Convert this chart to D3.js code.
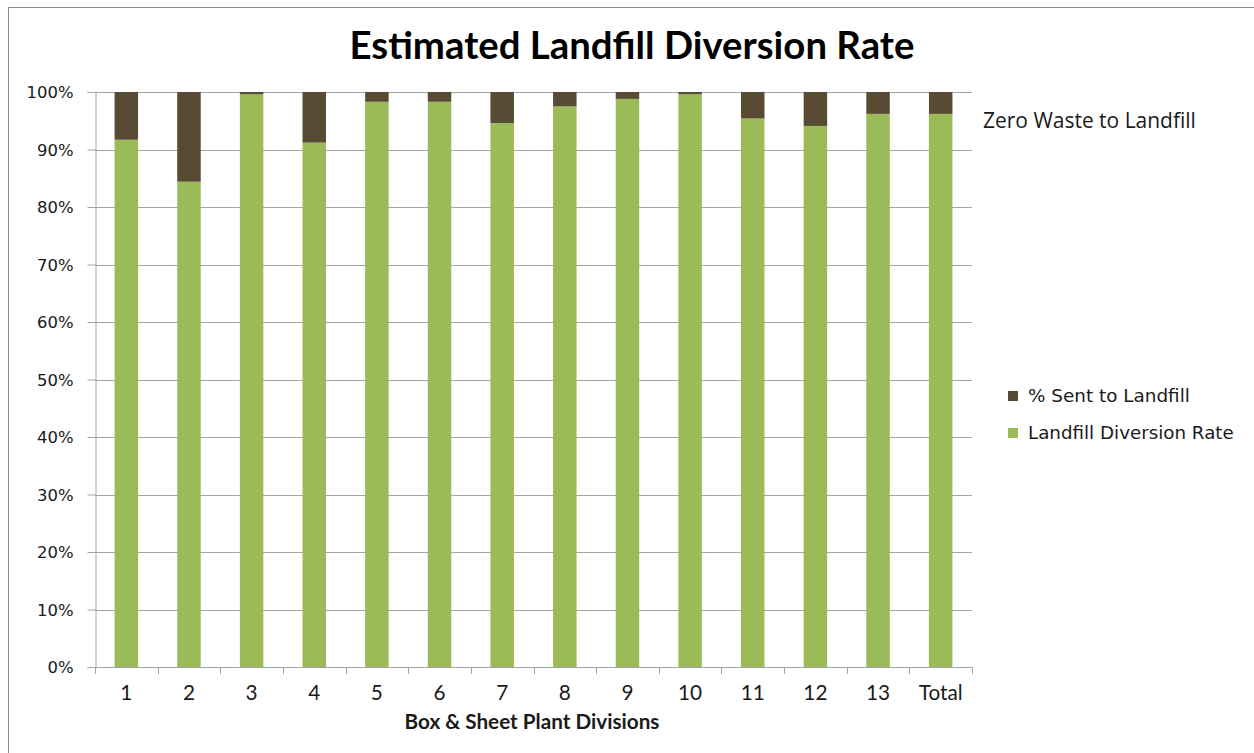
<!DOCTYPE html>
<html><head><meta charset="utf-8">
<script src="https://cdn.jsdelivr.net/npm/d3@7"></script>
<style>html,body{margin:0;padding:0;background:#fff;}svg{display:block;}</style>
</head><body>
<svg id="chart" width="1254" height="753"></svg>
<script>
const categories = ["1","2","3","4","5","6","7","8","9","10","11","12","13","Total"];
const diversionRate = [91.7, 84.4, 99.6, 91.2, 98.3, 98.3, 94.6, 97.5, 98.8, 99.6, 95.4, 94.1, 96.2, 96.2];
const sentToLandfill = diversionRate.map(v => +(100 - v).toFixed(1));
const yTicks = [0,10,20,30,40,50,60,70,80,90,100];
const seriesNames = ["% Sent to Landfill", "Landfill Diversion Rate"];
const titleText = "Estimated Landfill Diversion Rate";
const xTitle = "Box & Sheet Plant Divisions";
const note = "Zero Waste to Landfill";

const colors = {green:"#9BBB59", brown:"#584A33", grid:"#A5A5A5", text:"#1a1a1a"};
const svg = d3.select("#chart");
const plot = {left:95, right:972, top:92, bottom:667};

svg.append("rect").attr("x",8.5).attr("y",7.5).attr("width",1300).attr("height",800)
  .attr("fill","none").attr("stroke","#8c8c8c").attr("stroke-width",1);

const x = d3.scaleBand().domain(categories).range([plot.left, plot.right])
  .paddingInner(0.625).paddingOuter(0.3125);
const y = d3.scaleLinear().domain([0,100]).range([plot.bottom, plot.top]);

function fit(sel, target){
  const w = sel.node().getComputedTextLength();
  const fs = parseFloat(sel.attr("font-size"));
  sel.attr("font-size", fs*target/w);
}

svg.append("g").selectAll("line").data(yTicks.filter(d=>d>0)).join("line")
  .attr("x1",plot.left).attr("x2",plot.right)
  .attr("y1",d=>Math.round(y(d))+0.5).attr("y2",d=>Math.round(y(d))+0.5)
  .attr("stroke",colors.grid).attr("stroke-width",1);

const yAxis = svg.append("g").attr("transform",`translate(${plot.left+0.5},0)`)
  .call(d3.axisLeft(y).tickValues(yTicks).tickFormat(d=>d+"%").tickSize(8).tickPadding(14));
yAxis.select(".domain").attr("stroke",colors.grid);
yAxis.selectAll(".tick line").attr("stroke",colors.grid);
const yLabels = yAxis.selectAll(".tick text").attr("font-family","DejaVu Sans, Verdana, sans-serif")
  .attr("font-size",15).attr("fill",colors.text).attr("dy","0.36em");
{
  const top = yLabels.filter(d=>d===100).node();
  const f = 15*47/top.getComputedTextLength();
  yLabels.attr("font-size",f);
}

const stackData = categories.map((c,i)=>({cat:c, div:diversionRate[i], sent:sentToLandfill[i]}));
svg.append("g").selectAll("rect").data(stackData).join("rect")
  .attr("x",d=>x(d.cat)).attr("width",x.bandwidth())
  .attr("y",d=>y(d.div)).attr("height",d=>y(0)-y(d.div)).attr("fill",colors.green);
svg.append("g").selectAll("rect").data(stackData).join("rect")
  .attr("x",d=>x(d.cat)).attr("width",x.bandwidth())
  .attr("y",d=>y(d.div+d.sent)).attr("height",d=>y(d.div)-y(d.div+d.sent)).attr("fill",colors.brown);

const xg = svg.append("g");
xg.append("line").attr("x1",plot.left).attr("x2",plot.right)
  .attr("y1",plot.bottom+0.5).attr("y2",plot.bottom+0.5).attr("stroke",colors.grid);
const step = x.step();
xg.selectAll("line.tk").data(d3.range(categories.length+1)).join("line").attr("class","tk")
  .attr("x1",i=>Math.round(plot.left+i*step)+0.5).attr("x2",i=>Math.round(plot.left+i*step)+0.5)
  .attr("y1",plot.bottom).attr("y2",plot.bottom+7).attr("stroke",colors.grid);
const xLabels = xg.selectAll("text").data(categories).join("text")
  .attr("x",d=>x(d)+x.bandwidth()/2).attr("y",700).attr("text-anchor","middle")
  .attr("font-family","Lato, Open Sans, sans-serif").attr("font-size",17).attr("fill",colors.text)
  .text(d=>d);
{
  const tn = xLabels.filter(d=>d==="Total").node();
  const f = 17*44/tn.getComputedTextLength();
  xLabels.attr("font-size",f);
}

const t = svg.append("text").attr("x",632).attr("y",59).attr("text-anchor","middle")
  .attr("font-family","Lato, sans-serif").attr("font-weight","bold").attr("font-size",30)
  .attr("fill","#000").text(titleText);
fit(t,565);

const xt = svg.append("text").attr("x",532).attr("y",729).attr("text-anchor","middle")
  .attr("font-family","Lato, sans-serif").attr("font-weight","bold").attr("font-size",16)
  .attr("fill",colors.text).text(xTitle);
fit(xt,255);

const nt = svg.append("text").attr("x",983).attr("y",128)
  .attr("font-family","Open Sans, sans-serif").attr("font-size",17)
  .attr("fill",colors.text).text(note);
fit(nt,213);

const legColors = [colors.brown, colors.green];
const lg = svg.append("g");
seriesNames.forEach((s,i)=>{
  const yy = 391 + i*37;
  lg.append("rect").attr("x",1008).attr("y",yy).attr("width",10).attr("height",10).attr("fill",legColors[i]);
  const lt = lg.append("text").attr("x",1028).attr("y",yy+11)
    .attr("font-family","DejaVu Sans, Verdana, sans-serif").attr("font-size",15)
    .attr("fill",colors.text).text(s);
  fit(lt, i===0?162:206);
});
</script>
</body></html>
